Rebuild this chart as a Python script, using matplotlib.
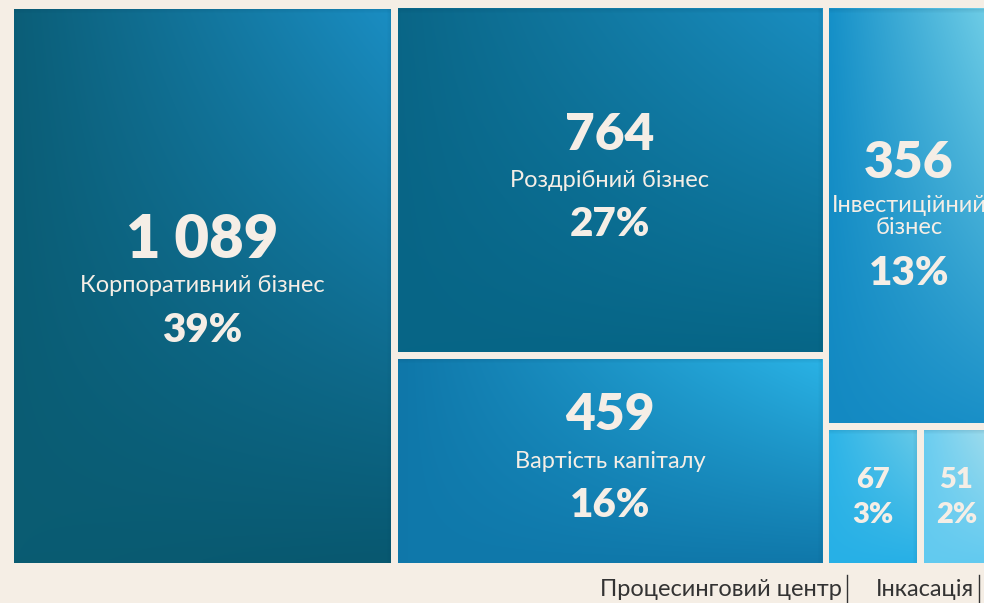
import numpy as np
import matplotlib.pyplot as plt
from matplotlib.colors import to_rgb

# data
names = ['Корпоративний бізнес', 'Роздрібний бізнес', 'Вартість капіталу',
         'Інвестиційний\nбізнес', 'Процесинговий центр', 'Інкасація']
values = [1089, 764, 459, 356, 67, 51]
pcts = [39, 27, 16, 13, 3, 2]
# treemap structure: columns -> rows -> items in a row
columns = [[[0]], [[1], [2]], [[3], [4, 5]]]
inside_name = [True, True, True, True, False, False]
# leader labels under the small boxes (x of the tick line, px)
leader_x = {4: 847, 5: 979}

# corner colours (top-left, top-right, bottom-left, bottom-right)
corners = [
    ('#0b5e78', '#1a8dc2', '#0a5c72', '#085870'),
    ('#0a6687', '#1a8ec1', '#076586', '#066687'),
    ('#0f77a9', '#2ab2e5', '#0f78aa', '#1078aa'),
    ('#1590c8', '#70cee7', '#1389c2', '#1a90c8'),
    ('#2db4e8', '#66c9e8', '#27b0e6', '#27b0e6'),
    ('#6bcdf0', '#a0dcec', '#62caf0', '#62caf0'),
]
BG = '#f5eee5'
TXT = '#f5eee6'

X0, Y0, W, H, GAP = 14, 9, 975, 554, 7


def layout():
    total = sum(values)
    rects = {}
    x = X0
    for col in columns:
        csum = sum(values[i] for row in col for i in row)
        cw = (W + GAP) * csum / total
        y = Y0
        for row in col:
            rsum = sum(values[i] for i in row)
            rh = (H + GAP) * rsum / csum
            xx = x
            for i in row:
                iw = cw * values[i] / rsum
                rects[i] = (xx, y, iw - GAP, rh - GAP)
                xx += iw
            y += rh
        x += cw
    return rects


def gradient(c, n=80):
    tl, tr, bl, br = [np.array(to_rgb(k)) for k in c]
    u = np.linspace(0, 1, n)[None, :, None]
    v = np.linspace(0, 1, n)[:, None, None]
    top = tl * (1 - u) + tr * u
    bot = bl * (1 - u) + br * u
    return top * (1 - v) + bot * v


fig = plt.figure(figsize=(9.84, 6.03), dpi=100, facecolor=BG)
ax = fig.add_axes([0, 0, 1, 1])
ax.set_xlim(0, 984)
ax.set_ylim(603, 0)
ax.axis('off')

rects = layout()
for i, (x, y, w, h) in rects.items():
    ax.imshow(gradient(corners[i]), extent=(x, x + w, y + h, y),
              interpolation='bilinear', aspect='auto', zorder=1)
    # soft inner shadow on top and right edges
    for k in range(4):
        a = 0.10 - k * 0.025
        ax.add_patch(plt.Rectangle((x, y + k), w, 1, color='#04304a', alpha=a, lw=0, zorder=2))
        ax.add_patch(plt.Rectangle((x + w - 1 - k, y), 1, h, color='#04304a', alpha=a * 0.7, lw=0, zorder=2))

    cx, cy = x + w / 2, y + h / 2
    num = f'{values[i]:,}'.replace(',', ' ')
    if inside_name[i]:
        big = 43 if i == 0 else 37
        two = '\n' in names[i]
        up, down = (53, 57) if two else (46, 44)
        ax.text(cx, cy - up, num, ha='center', va='center', fontsize=big,
                fontfamily='Lato', fontweight='heavy', color=TXT, zorder=3)
        ax.text(cx, cy, names[i], ha='center', va='center', fontsize=17,
                fontfamily='Lato', color=TXT, linespacing=1.05, zorder=3)
        ax.text(cx, cy + down, f'{pcts[i]}%', ha='center', va='center', fontsize=29,
                fontfamily='Lato', fontweight='heavy', color=TXT, zorder=3)
    else:
        ax.text(cx, cy - 17, num, ha='center', va='center', fontsize=21,
                fontfamily='Lato', fontweight='heavy', color=TXT, zorder=3)
        ax.text(cx, cy + 18, f'{pcts[i]}%', ha='center', va='center', fontsize=21,
                fontfamily='Lato', fontweight='heavy', color=TXT, zorder=3)

for i, lx in leader_x.items():
    ax.plot([lx, lx], [575, 603], color='#333333', lw=1, zorder=3)
    ax.text(lx - 5, 590, names[i], ha='right', va='center', fontsize=17,
            fontfamily='Lato', color='#333333', zorder=3)

fig.savefig('out.png', dpi=100, facecolor=BG)
